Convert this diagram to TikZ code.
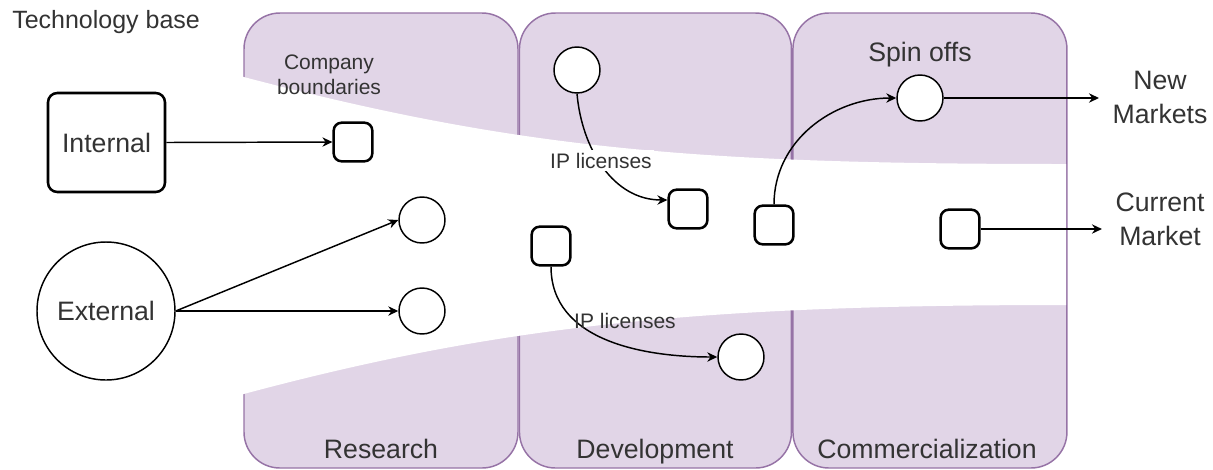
\documentclass[tikz,border=0pt]{standalone}
\usepackage{fontspec}
\setmainfont{Liberation Sans}
\usetikzlibrary{positioning, arrows.meta}
\definecolor{panelfill}{HTML}{E1D5E7}
\definecolor{paneldraw}{HTML}{9673A6}
\definecolor{txtgray}{HTML}{333333}

\begin{document}
\begin{tikzpicture}[x=0.75pt, y=-0.75pt,
        panel/.style={draw=paneldraw, fill=panelfill, line width=1.1pt, rounded corners=27pt, minimum width=205.5pt, minimum height=341.25pt, inner sep=0},
        sq/.style={draw, fill=white, line width=1.9pt, rounded corners=6pt, minimum size=29pt, inner sep=0},
        dot/.style={circle, draw, fill=white, line width=1.1pt, minimum size=34.5pt, inner sep=0},
        big/.style={text=txtgray, font=\fontsize{20}{25.5}\selectfont},
        small/.style={text=txtgray, font=\fontsize{15.75}{18.75}\selectfont},
        arr/.style={line width=1.1pt, -{Stealth[length=7.5pt, width=7pt]}}]
        \useasboundingbox (0,0) rectangle (1213,469);

        % stages
        \node (research) [panel] at (381,240.5) {};
        \node (devel) [panel, minimum width=204pt, right=0pt of research] {};
        \node (comm) [panel, right=0pt of devel] {};
        \fill [white] (240,76) .. controls (520,150) and (700,164) .. (1066,164) -- (1066,305) .. controls (700,305) and (500,325) .. (240,395) -- cycle;

        \node (techbase) at (12,28) [anchor=base west, inner sep=0, text=txtgray, font=\fontsize{18.75}{22}\selectfont] {Technology base};
        \node (compbd) at (329,75) [small, align=center] {Company\\boundaries};
        \node (intl) at (106.5,142.5) [draw, big, line width=1.9pt, rounded corners=7pt, minimum width=87.75pt, minimum height=74.25pt] {Internal};
        \node (extl) at (106,311) [circle, draw, big, line width=1.1pt, minimum size=103.5pt, inner sep=0] {External};

        \node (rsq) [sq] at (353,142) {};
        \node (rc1) [dot] at (422,220) {};
        \node (rc2) [dot] at (422,311) {};
        \node (dtop) [dot] at (577,70) {};
        \node (dsq1) [sq] at (688,209) {};
        \node (dsq2) [sq] at (551,246) {};
        \node (dbot) [dot] at (741,357) {};
        \node (csq1) [sq] at (774,225) {};
        \node (spin) [dot] at (920,98) {};
        \node (csq2) [sq] at (960,229) {};

        \node (newm) at (1160,97) [big, align=center, inner xsep=10pt] {New\\Markets};
        \node (curm) at (1160,219.5) [big, align=center, inner xsep=10pt] {Current\\Market};
        \node (spinlbl) at (920,61) [big, anchor=base] {Spin offs};

        \draw [arr] (intl.east) -- (rsq.west);
        \draw [arr] (extl.east) -- (rc1.west);
        \draw [arr] (extl.east) -- (rc2.west);
        \draw [arr] (dtop.south) to [out=-85, in=180] ([yshift=6.75pt]dsq1.west);
        \draw [arr] (dsq2.south) to [out=-90, in=180] (dbot.west);
        \draw [arr] (csq1.north) to [out=90, in=180] (spin.west);
        \draw [arr] (spin.east) -- (spin -| newm.west);
        \draw [arr] (csq2.east) -- (csq2 -| curm.west);
        \node (ipup) at (601,168) [small, anchor=base, fill=white, inner sep=2pt] {IP licenses};
        \node (iplow) at (625,328) [small, anchor=base] {IP licenses};

        \node (reslbl) at (381,458) [big, anchor=base] {Research};
        \node (devlbl) at (655,458) [big, anchor=base] {Development};
        \node (comlbl) at (927,458) [big, anchor=base] {Commercialization};
    \end{tikzpicture}
\end{document}
